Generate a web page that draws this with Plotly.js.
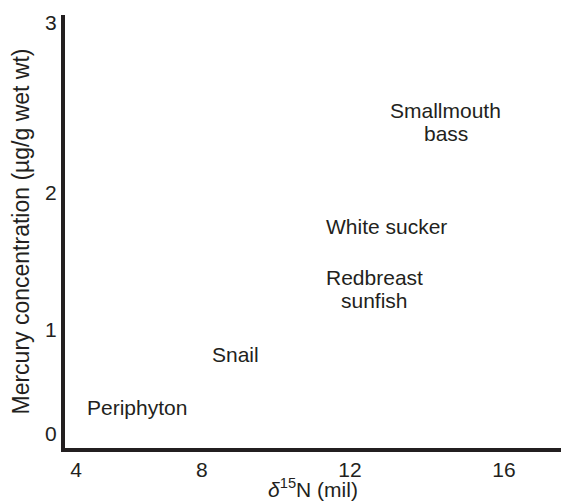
<!DOCTYPE html>
<html>
<head>
<meta charset="utf-8">
<script src="https://cdn.plot.ly/plotly-3.0.1.min.js"></script>
<style>html,body{margin:0;padding:0;background:#fff;}#chart{width:561px;height:501px;}</style>
</head>
<body>
<div id="chart"></div>
<script>
// Organism labels (one entry per line) and their positions on the chart axes
const organisms = [["Periphyton"], ["Snail"], ["Redbreast", "sunfish"], ["White sucker"], ["Smallmouth", "bass"]];
const deltaN15 = [5.71, 8.46, 12.36, 12.72, 14.37];
const mercury = [0.197, 0.577, 1.058, 1.511, 2.277];

// Tick labels and where they sit along each axis
const xTickText = ["4", "8", "12", "16"];
const xTickVals = [4, 7.53, 11.68, 16];
const yTickText = ["0", "1", "2", "3"];
const yTickVals = [0, 0.759, 1.759, 3];

const ink = "#231f20";
const fontFam = "Liberation Sans, Arial, Helvetica, sans-serif";
const lineGap = 23;

const annotations = [];
organisms.forEach((lines, i) => {
  const n = lines.length;
  lines.forEach((t, j) => {
    annotations.push({
      xref: "x", yref: "y",
      x: deltaN15[i], y: mercury[i],
      text: t,
      showarrow: false,
      xanchor: "center", yanchor: "middle",
      yshift: ((n - 1) / 2 - j) * lineGap,
      font: {family: fontFam, size: 21, color: ink}
    });
  });
});

const trace = {
  type: "scatter",
  mode: "markers",
  x: deltaN15,
  y: mercury,
  marker: {size: 1, opacity: 0},
  hoverinfo: "none",
  showlegend: false
};

const layout = {
  width: 561,
  height: 501,
  margin: {l: 65, r: 0, t: 15, b: 53, pad: 0},
  paper_bgcolor: "#fff",
  plot_bgcolor: "#fff",
  font: {family: fontFam, size: 21, color: ink},
  annotations: annotations,
  xaxis: {
    range: [3.69, 17.6],
    tickvals: xTickVals,
    ticktext: xTickText,
    showgrid: false,
    zeroline: false,
    showline: true,
    linewidth: 3.5,
    linecolor: ink,
    ticks: "",
    tickfont: {family: fontFam, size: 21, color: ink},
    title: {text: "<i>δ</i><sup>15</sup>N (mil)", font: {family: fontFam, size: 21, color: ink}, standoff: 2},
    automargin: false,
    fixedrange: true
  },
  yaxis: {
    range: [-0.102, 3.058],
    tickvals: yTickVals,
    ticktext: yTickText,
    showgrid: false,
    zeroline: false,
    showline: true,
    linewidth: 4,
    linecolor: ink,
    ticks: "",
    tickfont: {family: fontFam, size: 21, color: ink},
    title: {text: "Mercury concentration (µg/g wet wt)", font: {family: fontFam, size: 23, color: ink}, standoff: 10},
    automargin: false,
    fixedrange: true
  }
};

Plotly.newPlot("chart", [trace], layout, {staticPlot: true, displayModeBar: false});
</script>
</body>
</html>
